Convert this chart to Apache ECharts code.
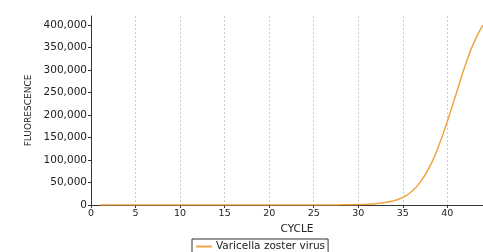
<!DOCTYPE html>
<html>
<head>
<meta charset="utf-8">
<script src="https://cdn.jsdelivr.net/npm/echarts@6/dist/echarts.min.js"></script>
<style>
  html, body { margin: 0; padding: 0; background: #fff; }
  #chart { width: 483px; height: 252px; }
</style>
</head>
<body>
<div id="chart"></div>
<script>
// cycle numbers and fluorescence readings
const cycles = [1, 2, 3, 4, 5, 6, 7, 8, 9, 10, 11, 12, 13, 14, 15, 16, 17, 18, 19, 20, 21, 22,
  23, 24, 25, 26, 27, 28, 29, 30, 31, 32, 33, 34, 35, 36, 37, 38, 39, 40, 41, 42, 43, 44]
const fluorescence = [0, 0, 0, 0, 0, 0, 0, 0, 0, 0, 0, 0, 0, 0, 0, 0, 0, 0, 0, 0, 0, 0,
  0, 0, 0, 0, 100, 300, 600, 1000, 1800, 3000, 5500, 9500, 17000, 30000, 52000, 84000,
  130000, 186000, 248000, 310000, 362000, 400000]
const seriesName = 'Varicella zoster virus'

const chart = echarts.init(document.getElementById('chart'))
const font = 'DejaVu Sans'
const axisColor = '#333'

chart.setOption({
  animation: false,
  grid: { left: 91, right: 0, top: 16, bottom: 47 },
  legend: {
    left: 192,
    top: 239,
    itemWidth: 16,
    itemHeight: 2,
    itemGap: 4,
    padding: [2, 3, 4, 4],
    borderColor: '#333',
    borderWidth: 1,
    borderRadius: 0,
    icon: 'rect',
    textStyle: { fontFamily: font, fontSize: 10.5, color: '#222', padding: [0, 0, 0, -1] },
    data: [seriesName]
  },
  xAxis: {
    type: 'value',
    min: 0,
    max: 44,
    interval: 5,
    name: 'CYCLE',
    nameLocation: 'middle',
    nameGap: 16,
    nameTextStyle: { fontFamily: font, fontSize: 10.5, color: '#222', padding: [0, 0, 0, 20] },
    axisLine: { lineStyle: { color: axisColor, width: 1 } },
    axisTick: { show: true, length: 3, lineStyle: { color: axisColor } },
    axisLabel: { fontFamily: font, fontSize: 9.5, color: '#222', margin: 4, showMaxLabel: false },
    splitLine: { show: true, lineStyle: { color: '#ccc', type: [2, 2], width: 1 } }
  },
  yAxis: {
    type: 'value',
    min: 0,
    max: 420000,
    interval: 50000,
    name: 'FLUORESCENCE',
    nameLocation: 'middle',
    nameGap: 57,
    nameRotate: 90,
    nameTextStyle: { fontFamily: font, fontSize: 9, color: '#222' },
    axisLine: { show: true, lineStyle: { color: axisColor, width: 1 } },
    axisTick: { show: true, length: 3, lineStyle: { color: axisColor } },
    axisLabel: {
      fontFamily: font, fontSize: 10.5, color: '#222', margin: 4, showMaxLabel: false,
      formatter: v => v.toLocaleString('en-US')
    },
    splitLine: { show: false }
  },
  series: [{
    name: seriesName,
    type: 'line',
    data: cycles.map((c, i) => [c, fluorescence[i]]),
    smooth: true,
    showSymbol: false,
    color: '#F0A443',
    lineStyle: { width: 1.5 }
  }]
})
</script>
</body>
</html>
